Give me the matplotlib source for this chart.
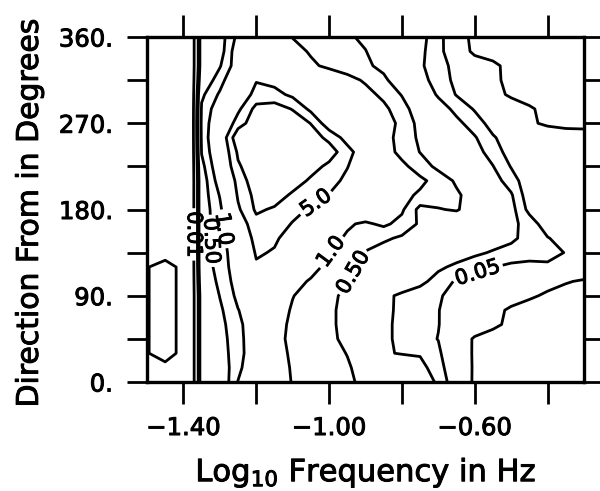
import numpy as np
import matplotlib
matplotlib.use("Agg")
import matplotlib.pyplot as plt
import matplotlib.patheffects as pe

# grid columns: log10 of frequency in Hz
log_freq = [-1.50, -1.45, -1.40, -1.38, -1.35, -1.30, -1.25, -1.20, -1.15, -1.10,
            -1.05, -1.00, -0.95, -0.90, -0.85, -0.80, -0.75, -0.70, -0.65, -0.60,
            -0.55, -0.50, -0.45, -0.40, -0.35, -0.30]
# grid rows: direction the waves come from, degrees
direction = [0, 15, 30, 45, 60, 75, 90, 105, 120, 135, 150, 165, 180,
             195, 210, 225, 240, 255, 270, 285, 300, 315, 330, 345, 360]
# log10 of the directional spectral density, one row per direction
log_energy = [
    [-2.3, -2.3, -2.3, -2.6, -0.7, -0.6, 0.01, 0.25, 0.3, -0.03, -0.09, -0.17, -0.25, -0.37, -0.53, -0.69, -0.85, -1.04, -1.57, -2.08, -2.2, -2.2, -2.2, -2.2, -2.2, -2.2],
    [-2.3, -2.1, -2.2, -2.6, -0.7, -0.55, -0.07, 0.25, 0.25, -0.05, -0.11, -0.19, -0.27, -0.41, -0.57, -0.74, -0.9, -1.16, -1.6, -2.07, -2.2, -2.2, -2.2, -2.2, -2.2, -2.2],
    [-2.02, -1.85, -2.1, -2.6, -0.7, -0.48, -0.1, 0.2, 0.1, -0.04, -0.12, -0.21, -0.31, -0.61, -0.97, -1.02, -1.03, -1.24, -1.64, -2.07, -2.2, -2.2, -2.2, -2.2, -2.2, -2.2],
    [-2.02, -1.85, -2.1, -2.6, -0.7, -0.45, -0.09, 0.2, 0.07, -0.05, -0.14, -0.23, -0.38, -0.65, -0.93, -1.08, -1.19, -1.31, -1.68, -2.06, -2.2, -2.2, -2.2, -2.2, -2.2, -2.2],
    [-2.02, -1.85, -2.1, -2.6, -0.7, -0.41, -0.07, 0.2, 0.08, -0.04, -0.14, -0.24, -0.4, -0.67, -0.93, -1.08, -1.19, -1.29, -1.5, -1.7, -1.9, -2.11, -2.2, -2.2, -2.2, -2.2],
    [-2.02, -1.85, -2.1, -2.6, -0.7, -0.36, -0.01, 0.2, 0.15, -0.03, -0.13, -0.24, -0.4, -0.66, -0.92, -1.07, -1.18, -1.29, -1.48, -1.67, -1.87, -2.07, -2.2, -2.2, -2.2, -2.2],
    [-2.02, -1.85, -2.1, -2.6, -0.7, -0.29, 0.08, 0.25, 0.25, 0.01, -0.11, -0.22, -0.38, -0.64, -0.91, -1.07, -1.17, -1.27, -1.4, -1.53, -1.66, -1.8, -1.93, -2.07, -2.2, -2.2],
    [-2.02, -1.85, -2.1, -2.6, -0.6, -0.22, 0.14, 0.35, 0.3, 0.1, -0.03, -0.16, -0.29, -0.44, -0.6, -0.75, -0.91, -1.13, -1.34, -1.44, -1.54, -1.64, -1.75, -1.85, -1.96, -2.06],
    [-2.02, -1.85, -2.1, -2.6, -0.52, -0.17, 0.18, 0.65, 0.6, 0.45, 0.1, -0.08, -0.23, -0.38, -0.52, -0.66, -0.8, -0.94, -1.07, -1.18, -1.29, -1.38, -1.4, -1.34, -1.33, -1.6],
    [-2.3, -2.17, -2.2, -2.6, -0.5, -0.16, 0.22, 0.74, 0.67, 0.45, 0.25, 0.01, -0.17, -0.32, -0.43, -0.53, -0.63, -0.73, -0.83, -0.94, -1.03, -1.09, -1.16, -1.23, -1.31, -1.37],
    [-2.3, -2.3, -2.3, -2.6, -0.5, -0.12, 0.26, 0.85, 0.75, 0.55, 0.3, 0.1, -0.04, -0.15, -0.25, -0.35, -0.45, -0.55, -0.65, -0.75, -0.85, -0.95, -1.09, -1.28, -1.45, -1.55],
    [-2.3, -2.3, -2.3, -2.6, -0.5, -0.1, 0.49, 0.9, 0.85, 0.68, 0.45, 0.25, 0.04, -0.05, 0.06, -0.1, -0.35, -0.46, -0.58, -0.69, -0.8, -0.92, -1.12, -1.5, -1.6, -1.65],
    [-2.3, -2.3, -2.3, -2.6, -0.5, -0.07, 0.65, 1.05, 0.96, 0.8, 0.66, 0.54, 0.42, 0.3, 0.17, 0.05, -0.4, -0.32, -0.27, -0.47, -0.67, -0.88, -1.4, -1.5, -1.6, -1.65],
    [-2.3, -2.3, -2.3, -2.6, -0.49, 0.02, 0.74, 1.1, 1.15, 0.95, 0.83, 0.69, 0.56, 0.4, 0.24, 0.09, -0.05, -0.15, -0.25, -0.45, -0.7, -0.96, -1.5, -1.6, -1.65, -1.7],
    [-2.3, -2.3, -2.3, -2.6, -0.5, 0.17, 0.81, 1.2, 1.22, 1.15, 0.95, 0.79, 0.64, 0.49, 0.35, 0.21, 0.07, -0.12, -0.35, -0.6, -0.85, -1.16, -1.5, -1.6, -1.65, -1.7],
    [-2.3, -2.3, -2.3, -2.6, -0.41, 0.29, 0.96, 1.2, 1.25, 1.2, 1.12, 0.93, 0.71, 0.5, 0.29, 0.08, -0.15, -0.38, -0.58, -0.78, -0.99, -1.32, -1.5, -1.6, -1.65, -1.7],
    [-2.3, -2.3, -2.3, -2.6, -0.28, 0.36, 1.05, 1.25, 1.3, 1.25, 1.2, 1.15, 0.82, 0.47, 0.16, -0.1, -0.31, -0.5, -0.69, -0.88, -1.13, -1.45, -1.55, -1.6, -1.65, -1.7],
    [-2.3, -2.3, -2.3, -2.6, -0.22, 0.4, 1.25, 1.3, 1.32, 1.28, 1.15, 0.92, 0.57, 0.35, 0.12, -0.11, -0.36, -0.57, -0.77, -0.97, -1.27, -1.45, -1.55, -1.6, -1.65, -1.7],
    [-2.3, -2.3, -2.3, -2.6, -0.2, 0.3, 0.85, 1.2, 1.25, 1.2, 0.99, 0.5, 0.4, 0.27, 0.13, -0.07, -0.41, -0.66, -0.91, -1.16, -1.42, -1.66, -1.91, -2.1, -2.2, -2.2],
    [-2.3, -2.3, -2.3, -2.6, -0.25, 0.22, 0.63, 1.1, 1.15, 0.98, 0.62, 0.51, 0.37, 0.22, 0.07, -0.17, -0.5, -0.82, -1.1, -1.33, -1.53, -1.73, -1.94, -2.14, -2.2, -2.2],
    [-2.3, -2.3, -2.3, -2.6, -0.37, 0.05, 0.46, 0.8, 0.8, 0.63, 0.49, 0.36, 0.23, 0.1, -0.07, -0.32, -0.7, -1.05, -1.32, -1.58, -1.83, -2.08, -2.2, -2.2, -2.2, -2.2],
    [-2.3, -2.3, -2.3, -2.6, -0.57, -0.14, 0.4, 0.68, 0.6, 0.48, 0.36, 0.23, 0.1, -0.04, -0.23, -0.53, -0.88, -1.14, -1.38, -1.63, -1.89, -2.14, -2.2, -2.2, -2.2, -2.2],
    [-2.3, -2.3, -2.3, -2.6, -0.7, -0.33, 0.2, 0.35, 0.35, 0.25, 0.05, -0.06, -0.15, -0.24, -0.39, -0.67, -0.95, -1.18, -1.4, -1.65, -1.9, -2.15, -2.2, -2.2, -2.2, -2.2],
    [-2.3, -2.3, -2.3, -2.6, -0.7, -0.46, 0.23, 0.3, 0.25, 0.1, -0.03, -0.12, -0.2, -0.29, -0.5, -0.71, -0.93, -1.18, -1.6, -2.14, -2.2, -2.2, -2.2, -2.2, -2.2, -2.2],
    [-2.3, -2.3, -2.3, -2.6, -0.7, -0.46, 0.09, 0.25, 0.25, -0.01, -0.09, -0.17, -0.25, -0.37, -0.55, -0.73, -0.9, -1.17, -1.64, -2.2, -2.2, -2.2, -2.2, -2.2, -2.2, -2.2],
]

levels = [0.01, 0.05, 0.10, 0.50, 1.0, 5.0, 10.0]
level_names = ["0.01", "0.05", "0.10", "0.50", "1.0", "5.0", "10."]

x_ticks = [-1.40, -1.20, -1.00, -0.80, -0.60, -0.40]
x_tick_labels = ["\u22121.40", "", "\u22121.00", "", "\u22120.60", ""]
y_ticks = [0, 45, 90, 135, 180, 225, 270, 315, 360]
y_tick_labels = ["0.", "", "90.", "", "180.", "", "270.", "", "360."]

log_levels = np.log10(levels)
z = np.array(log_energy)

# slightly heavier text, like the scanned original
heavy = [pe.withStroke(linewidth=0.7, foreground="black")]

fig = plt.figure(figsize=(6, 4.91), dpi=100)
ax = fig.add_axes([0.245, 0.222, 0.7283, 0.7026])

# one contour set per level so each label goes on the right line
sets = []
for lv, name in zip(log_levels, level_names):
    cs = ax.contour(log_freq, direction, z, levels=[lv], colors="black",
                    linewidths=2.0, linestyles="solid")
    sets.append((cs, name))

# where the labels sit on the lines
label_spots = [(0, -1.376, 154), (3, -1.333, 147), (4, -1.286, 160),
               (5, -1.033, 185), (4, -0.995, 136), (3, -0.937, 115),
               (1, -0.591, 113)]
for i, lx, ly in label_spots:
    cs, name = sets[i]
    texts = ax.clabel(cs, manual=[(lx, ly)], fmt={cs.levels[0]: name},
                      inline=True, inline_spacing=3, fontsize=15,
                      colors="black")
    for t in texts:
        t.set_path_effects(heavy)

ax.set_xlim(-1.5, -0.3)
ax.set_ylim(0, 360)
ax.set_xticks(x_ticks)
ax.set_xticklabels(x_tick_labels)
ax.set_yticks(y_ticks)
ax.set_yticklabels(y_tick_labels)
ax.tick_params(axis="x", direction="out", length=15.5, width=2, top=True,
               labelsize=17.5, pad=9)
ax.tick_params(axis="y", direction="out", length=14.5, width=2, right=True,
               labelsize=17.5, pad=10)
for t in ax.get_xticklabels() + ax.get_yticklabels():
    t.set_path_effects(heavy)
for s in ax.spines.values():
    s.set_linewidth(2.4)

ax.set_xlabel("Log$_{10}$ Frequency in Hz", fontsize=22, path_effects=heavy)
ax.set_ylabel("Direction From in Degrees", fontsize=21.5, path_effects=heavy)
ax.xaxis.set_label_coords(0.5, -0.215)
ax.yaxis.set_label_coords(-0.236, 0.49)

fig.savefig("out.png", dpi=100)
